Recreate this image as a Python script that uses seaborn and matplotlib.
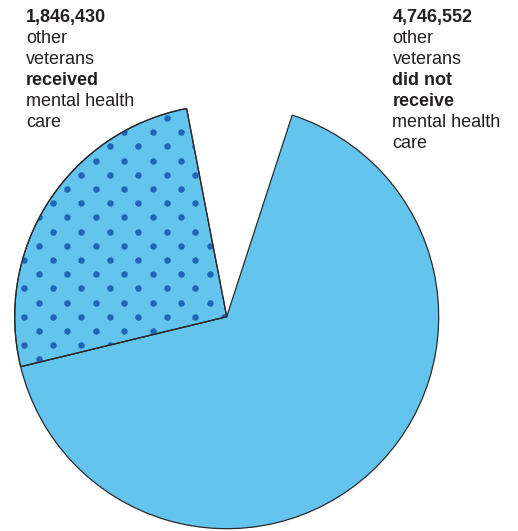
import numpy as np
import matplotlib
matplotlib.use("Agg")
import matplotlib.pyplot as plt
import seaborn as sns

# Data
categories = ["not shown", "received mental health care", "did not receive mental health care"]
values = [575500, 1846430, 4746552]   # first value: the empty gap wedge (estimated)
label_left = ["1,846,430", "other", "veterans", "received", "mental health", "care"]
bold_left = [True, False, False, True, False, False]
label_right = ["4,746,552", "other", "veterans", "did not", "receive", "mental health", "care"]
bold_right = [True, False, False, True, True, False, False]

sns.set_theme(style="white")
plt.rcParams['font.family'] = ['Liberation Sans', 'DejaVu Sans']

W, H = 518, 531
fig = plt.figure(figsize=(W / 100, H / 100), dpi=100)
ax = fig.add_axes([0, 0, 1, 1])

fill = "#63c5ee"
dotc = "#2066b8"
edge = "#2a2a2a"
cx, cy, R = 226.7, H - 316.7, 212

wedges, _ = ax.pie(values, colors=[fill] * 3, startangle=72, counterclock=True,
                   radius=R, center=(cx, cy), frame=True,
                   wedgeprops=dict(edgecolor=edge, linewidth=0.9))
ax.set_xlim(0, W)
ax.set_ylim(0, H)
ax.set_aspect('equal')
ax.axis('off')
wedges[0].set_facecolor('none')
wedges[0].set_edgecolor('none')

# dotted texture on the "received" wedge
xs, ys = [], []
for yy in np.arange(316.7 - 14.2 * 20, 316.7 + 14.2 * 10, 14.2):
    k = int(round((yy - 316.7) / 14.2))
    off = 0 if k % 2 == 0 else 14.25
    for xx in np.arange(24.3 - 28.5 * 2 + off, 260, 28.5):
        xs.append(xx)
        ys.append(H - yy)
sc = ax.scatter(xs, ys, s=22, color=dotc, linewidths=0, zorder=3)
sc.set_clip_path(wedges[1])
wedges[1].set_zorder(2)
edgecopy = matplotlib.patches.Wedge((cx, cy), R, wedges[1].theta1, wedges[1].theta2,
                                    facecolor='none', edgecolor=edge, linewidth=0.9, zorder=4)
ax.add_patch(edgecopy)

fs = 13
tc = "#231f20"
lh = 21.1
for i, (t, b) in enumerate(zip(label_left, bold_left)):
    ax.text(26, H - (21.7 + lh * i), t, fontsize=fs, color=tc,
            fontweight='bold' if b else 'normal', ha='left', va='baseline')
for i, (t, b) in enumerate(zip(label_right, bold_right)):
    ax.text(392.5, H - (21.7 + lh * i), t, fontsize=fs, color=tc,
            fontweight='bold' if b else 'normal', ha='left', va='baseline')

fig.savefig("out.png", dpi=100)
